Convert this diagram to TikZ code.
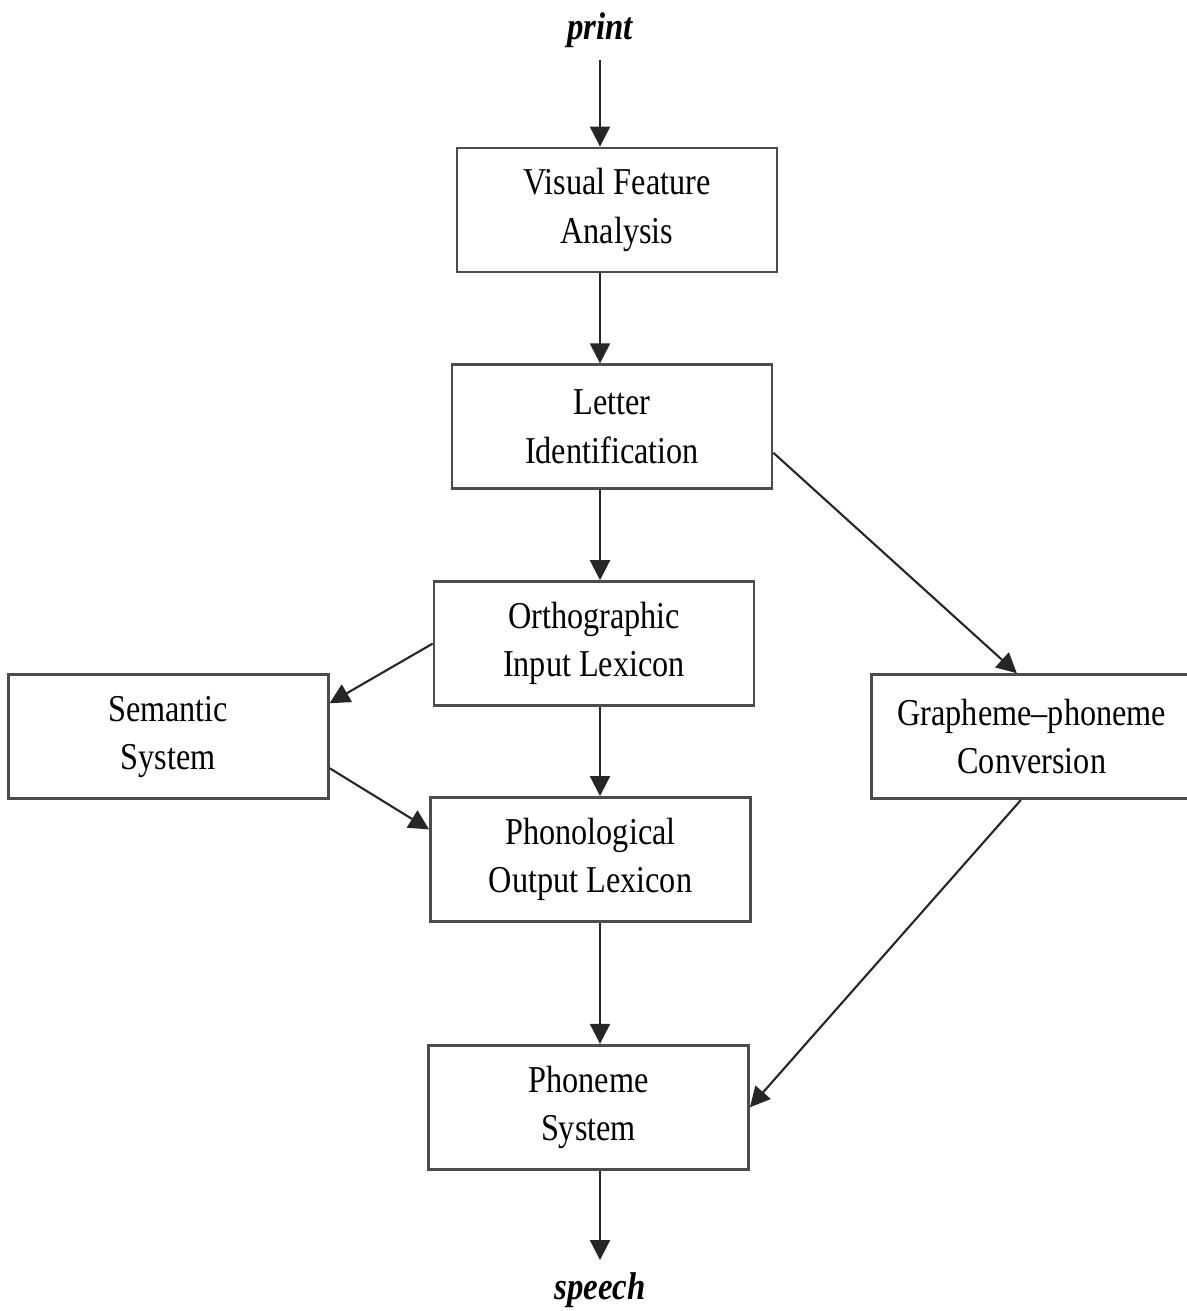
\documentclass[tikz,border=0pt]{standalone}
\usepackage{fontspec}
\setmainfont{Liberation Serif}[FakeStretch=0.85]
\usepackage{tikz}
\usetikzlibrary{arrows.meta}
\usetikzlibrary{positioning}

\begin{document}
\begin{tikzpicture}[node distance = 0.90cm, auto,
		>={Triangle[length=2mm,width=2mm]},
		box/.style={draw=black!70, line width=0.8pt, minimum width=3.2cm, minimum height=1.24cm,
			align=center, inner sep=0pt, font=\fontsize{10.8}{13.7}\selectfont},
		flow/.style={->, line width=0.6pt, black!85},
		io/.style={font=\fontsize{11}{13}\selectfont\bfseries\itshape}]
			\useasboundingbox (0,0) rectangle (11.87,-13.11);
			\node[box] (Visual) at (6.17,-2.10) {Visual Feature\\Analysis};
			\node[io] (Print) at (6.00,-0.30) {print};
			\node[box, below=of Visual, xshift=-0.05cm] (Letter) {Letter\\Identification};
			\node[box, below=of Letter, xshift=-0.18cm] (Ortho) {Orthographic\\Input Lexicon};
			\node[box, left=1.03cm of Ortho, yshift=-0.93cm] (Semantic) {Semantic\\System};
			\node[box, right=1.15cm of Ortho, yshift=-0.93cm] (Grapheme) {Grapheme--phoneme\\Conversion};
			\node[box, below=0.89cm of Ortho, xshift=-0.035cm] (Phono) {Phonological\\Output Lexicon};
			\node[box, below=1.21cm of Phono, xshift=-0.02cm] (Phoneme) {Phoneme\\System};
			\node[io] (Speech) at (6.00,-12.90) {speech};
			\draw[flow] (Print.south) -- (Visual.north -| Print);
			\draw[flow] (Visual.south -| Print) -- (Letter.north -| Print);
			\draw[flow] (Letter.south -| Print) -- (Ortho.north -| Print);
			\draw[flow] (Ortho.south -| Print) -- (Phono.north -| Print);
			\draw[flow] (Phono.south -| Print) -- (Phoneme.north -| Print);
			\draw[flow] (Phoneme.south -| Print) -- (Speech.north);
			\draw[flow] (Ortho.west) -- ([yshift=-0.3cm]Semantic.north east);
			\draw[flow] ([yshift=-0.95cm]Semantic.north east) -- ([yshift=0.3cm]Phono.west);
			\draw[flow] ([yshift=-0.26cm]Letter.east) -- ([xshift=-0.15cm]Grapheme.north);
			\draw[flow] ([xshift=-0.11cm]Grapheme.south) -- (Phoneme.east);
		\end{tikzpicture}
\end{document}
